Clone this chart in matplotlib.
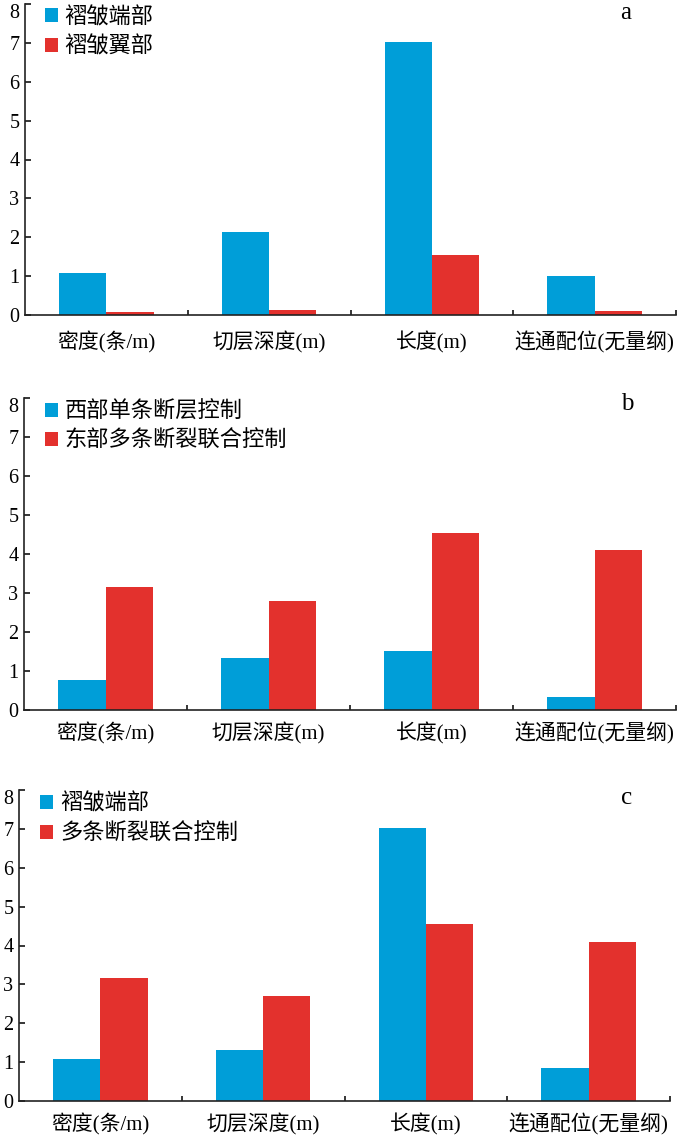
import matplotlib
matplotlib.use("Agg")
import matplotlib.pyplot as plt
import numpy as np

categories = ["密度(条/m)", "切层深度(m)", "长度(m)", "连通配位(无量纲)"]

# Panel a
a_labels = ["褶皱端部", "褶皱翼部"]
a_blue = [1.07, 2.14, 7.01, 1.00]
a_red = [0.07, 0.13, 1.54, 0.11]

# Panel b
b_labels = ["西部单条断层控制", "东部多条断裂联合控制"]
b_blue = [0.77, 1.32, 1.51, 0.33]
b_red = [3.16, 2.78, 4.54, 4.09]

# Panel c
c_labels = ["褶皱端部", "多条断裂联合控制"]
c_blue = [1.07, 1.31, 7.02, 0.84]
c_red = [3.16, 2.71, 4.55, 4.08]

panel_letters = ["a", "b", "c"]
yticks = [0, 1, 2, 3, 4, 5, 6, 7, 8]

BLUE = "#009ED8"
RED = "#E3312D"
SERIF = ["Liberation Serif", "Noto Sans CJK SC"]
CJK = ["Noto Sans CJK SC", "DejaVu Sans"]

W, H = 700, 1137
fig = plt.figure(figsize=(W / 100, H / 100), dpi=100)

# axes boxes in pixels: left, right, y_bottom(px from top), y_top(px from top)
boxes = [(25, 676, 315, 4), (24, 676, 710, 397.6), (19, 670, 1101, 790)]
letter_pos = [(0.923, 0.972), (0.925, 0.980), (0.934, 0.975)]
legend_anchor = [(0.030, 0.996), (0.032, 0.994), (0.032, 0.994)]
xlabel_pad = [12, 9, 9]

data = [(a_labels, a_blue, a_red), (b_labels, b_blue, b_red), (c_labels, c_blue, c_red)]

x = np.arange(len(categories))
bw = 0.29

for i, ((l, r, yb, yt), (labs, blue, red)) in enumerate(zip(boxes, data)):
    ax = fig.add_axes([l / W, 1 - yb / H, (r - l) / W, (yb - yt) / H])
    ax.bar(x - bw / 2, blue, width=bw, color=BLUE, label=labs[0], zorder=2)
    ax.bar(x + bw / 2, red, width=bw, color=RED, label=labs[1], zorder=2)
    ax.set_xlim(-0.5, 3.5)
    ax.set_ylim(0, 8)
    ax.set_yticks(yticks)
    ax.set_yticklabels([str(t) for t in yticks], family=SERIF, fontsize=14.5)
    ax.get_yticklabels()[-1].set_va("top")
    ax.set_xticks(x)
    ax.set_xticklabels(categories, family=SERIF, fontsize=15)
    ax.set_xticks([0.5, 1.5, 2.5, 3.5], minor=True)
    ax.tick_params(axis="x", which="major", length=0, pad=xlabel_pad[i])
    ax.tick_params(axis="x", which="minor", direction="in", length=3.5, width=1.1)
    ax.tick_params(axis="y", direction="in", length=4.5, width=1.1, pad=4)
    for s in ["top", "right"]:
        ax.spines[s].set_visible(False)
    for s in ["left", "bottom"]:
        ax.spines[s].set_linewidth(1.2)
        ax.spines[s].set_color("#222222")
    leg = ax.legend(loc="upper left", bbox_to_anchor=legend_anchor[i], frameon=False,
                    prop={"family": CJK, "size": 16}, handlelength=0.6, handleheight=0.6,
                    handletextpad=0.3, labelspacing=0.3, borderpad=0, borderaxespad=0)
    lx, ly = letter_pos[i]
    ax.text(lx, ly, panel_letters[i], transform=ax.transAxes, family=SERIF, fontsize=18,
            ha="center", va="center")

fig.savefig("out.png", dpi=100)
